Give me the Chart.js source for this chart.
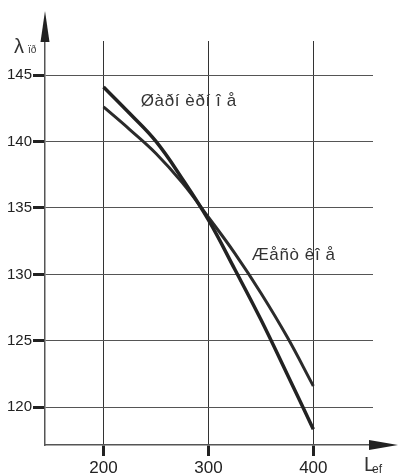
<!DOCTYPE html>
<html>
<head>
<meta charset="utf-8">
<script src="https://cdn.jsdelivr.net/npm/chart.js@4.4.0/dist/chart.umd.min.js"></script>
<style>
  body { margin: 0; background: #fff; }
  canvas { display: block; }
</style>
</head>
<body>
<canvas id="grafico" width="398" height="473"></canvas>
<script>
// valores
var lefValues = [200, 225, 250, 275, 300, 325, 350, 375, 400];
var sharnirnoe = [144.1, 142.1, 140.0, 137.2, 134.1, 130.4, 126.6, 122.5, 118.35];
var zhestkoe = [142.6, 140.9, 139.1, 136.9, 134.3, 131.6, 128.6, 125.3, 121.6];
var xTicks = [200, 300, 400];
var yTicks = [120, 125, 130, 135, 140, 145];
var curveLabels = ["Øàðí èðí î å", "Æåñò êî å"];
var curveLabelAt = [[235.5, 143.0], [341.3, 131.45]];

function puntos(ys) {
  return lefValues.map(function (x, i) { return { x: x, y: ys[i] }; });
}

var FONT = "'Liberation Sans', Arial, sans-serif";

// flechas de los ejes y textos
var decoracion = {
  id: "decoracion",
  afterDatasetsDraw: function (chart) {
    var ctx = chart.ctx;
    var a = chart.chartArea;
    var sx = chart.scales.x, sy = chart.scales.y;
    ctx.save();
    ctx.fillStyle = "#222";
    // flecha eje y
    ctx.beginPath();
    ctx.moveTo(a.left, 11);
    ctx.lineTo(a.left - 4.5, a.top + 1);
    ctx.lineTo(a.left + 4.5, a.top + 1);
    ctx.closePath();
    ctx.fill();
    // flecha eje x
    ctx.beginPath();
    ctx.moveTo(398, a.bottom);
    ctx.lineTo(a.right - 4, a.bottom - 5);
    ctx.lineTo(a.right - 4, a.bottom + 5);
    ctx.closePath();
    ctx.fill();

    // etiquetas de las curvas
    ctx.fillStyle = "#333";
    ctx.font = "17px " + FONT;
    ctx.letterSpacing = "0.6px";
    ctx.textBaseline = "middle";
    ctx.textAlign = "left";
    for (var i = 0; i < curveLabels.length; i++) {
      ctx.fillText(curveLabels[i], sx.getPixelForValue(curveLabelAt[i][0]), sy.getPixelForValue(curveLabelAt[i][1]));
    }
    ctx.letterSpacing = "0px";

    // titulo eje y
    ctx.textBaseline = "alphabetic";
    ctx.font = "20px " + FONT;
    ctx.fillText("λ", 14, 53);
    ctx.font = "10px " + FONT;
    ctx.fillText("ïð", 28, 53);
    // titulo eje x
    ctx.font = "20px " + FONT;
    ctx.fillText("L", 364, 471);
    ctx.font = "12px " + FONT;
    ctx.fillText("ef", 372, 473);
    ctx.restore();
  }
};

var ctx = document.getElementById("grafico").getContext("2d");
var grafico = new Chart(ctx, {
  type: "line",
  data: {
    datasets: [
      {
        label: "Шарнирное",
        data: puntos(sharnirnoe),
        borderColor: "#222",
        borderWidth: 3.5,
        pointRadius: 0,
        tension: 0.4,
        fill: false
      },
      {
        label: "Жесткое",
        data: puntos(zhestkoe),
        borderColor: "#2b2b2b",
        borderWidth: 3,
        pointRadius: 0,
        tension: 0.4,
        fill: false
      }
    ]
  },
  options: {
    responsive: false,
    animation: false,
    layout: { padding: { top: 41, right: 25, left: 0, bottom: 0 } },
    plugins: { legend: { display: false }, tooltip: { enabled: false } },
    scales: {
      x: {
        type: "linear",
        min: 144.2,
        max: 456.9,
        afterFit: function (s) { s.height = 28; },
        afterBuildTicks: function (s) { s.ticks = xTicks.map(function (v) { return { value: v }; }); },
        grid: { color: "#333", lineWidth: 1, tickLength: 11, tickWidth: 3, tickColor: "#222" },
        border: { display: true, color: "#555", width: 1.5 },
        ticks: { color: "#222", font: { family: FONT, size: 17 }, padding: 2, maxRotation: 0 }
      },
      y: {
        type: "linear",
        min: 117.16,
        max: 147.56,
        afterFit: function (s) { s.width = 45; },
        afterBuildTicks: function (s) { s.ticks = yTicks.map(function (v) { return { value: v }; }); },
        grid: { color: "#555", lineWidth: 1, tickLength: 12, tickWidth: 3, tickColor: "#222" },
        border: { display: true, color: "#555", width: 1.5 },
        ticks: { color: "#222", font: { family: FONT, size: 15 }, padding: 1 }
      }
    }
  },
  plugins: [decoracion]
});
</script>
</body>
</html>
